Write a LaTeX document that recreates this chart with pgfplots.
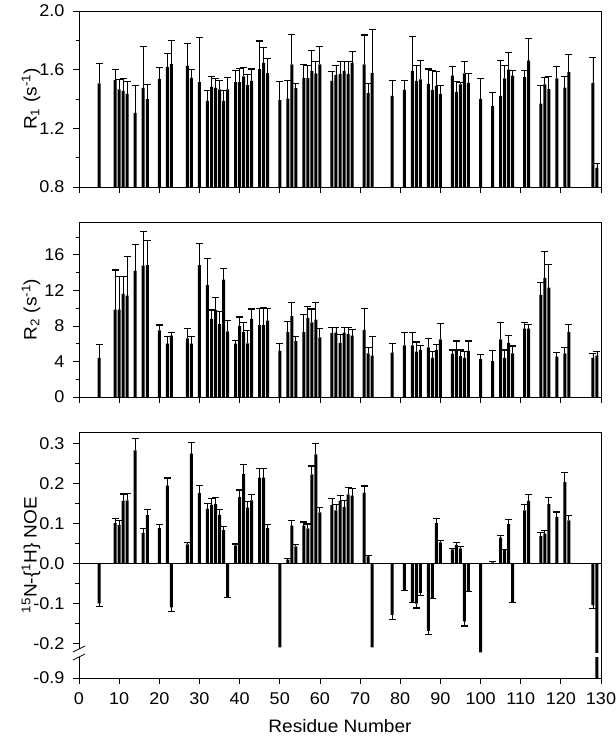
\documentclass[border=0pt]{standalone}
\usepackage{fontspec}
\setmainfont{Liberation Sans}[FakeStretch=1.06]
\usepackage{pgfplots}
\usepackage{pgfplotstable}
\pgfplotsset{compat=1.18}

% R1 (s^-1): residue, value, error
\pgfplotstableread{
x y e
5 1.506 0.136
9 1.528 0.072
10 1.465 0.068
11 1.456 0.082
12 1.435 0.087
14 1.305 0.185
16 1.476 0.280
17 1.399 0.098
20 1.535 0.082
22 1.617 0.093
23 1.638 0.159
27 1.626 0.151
28 1.544 0.056
30 1.515 0.303
32 1.387 0.071
33 1.483 0.073
34 1.476 0.062
35 1.465 0.061
36 1.387 0.073
37 1.465 0.082
39 1.515 0.080
40 1.515 0.093
41 1.554 0.061
42 1.494 0.071
43 1.524 0.080
45 1.604 0.191
46 1.647 0.103
47 1.576 0.101
50 1.392 0.128
52 1.403 0.121
53 1.636 0.202
54 1.474 0.032
56 1.542 0.094
57 1.542 0.089
58 1.592 0.141
59 1.574 0.082
60 1.636 0.120
63 1.524 0.066
64 1.563 0.064
65 1.572 0.084
66 1.592 0.064
67 1.572 0.084
68 1.647 0.077
71 1.636 0.200
72 1.440 0.063
73 1.576 0.299
78 1.421 0.103
81 1.462 0.062
83 1.592 0.233
84 1.524 0.103
85 1.533 0.132
87 1.503 0.101
88 1.462 0.133
89 1.490 0.095
90 1.433 0.061
93 1.560 0.064
94 1.449 0.068
95 1.499 0.016
96 1.574 0.080
97 1.510 0.066
100 1.399 0.143
103 1.351 0.091
105 1.421 0.244
106 1.540 0.087
107 1.601 0.114
108 1.560 0.032
111 1.549 0.043
112 1.661 0.152
115 1.369 0.123
116 1.499 0.046
117 1.467 0.087
119 1.540 0.084
121 1.478 0.076
122 1.583 0.121
128 1.508 0.175
129 0.930 0.030
}\rone

% R2 (s^-1)
\pgfplotstableread{
x y e
5 4.4 1.5
9 9.85 4.45
10 9.85 3.75
11 11.6 2.0
12 11.4 4.4
14 14.2 3.0
16 14.8 3.8
17 14.85 2.75
20 7.5 0.6
22 6.0 0.85
23 6.9 0.4
27 6.6 1.1
28 6.0 0.85
30 14.85 2.45
32 12.6 3.0
33 8.8 1.0
34 9.8 1.4
35 8.2 1.4
36 13.2 1.3
37 7.4 1.2
39 6.0 0.4
40 8.0 1.0
41 7.3 1.1
42 6.05 1.45
43 8.8 1.1
45 8.1 1.9
46 8.1 2.0
47 8.6 1.4
50 5.2 0.8
52 7.3 1.2
53 9.1 1.5
54 6.3 0.55
56 7.3 2.0
57 8.9 1.3
58 8.4 1.5
59 8.7 1.9
60 6.7 1.0
63 7.2 0.6
64 7.25 0.55
65 6.1 0.9
66 7.25 0.55
67 7.1 0.7
68 6.9 0.7
71 7.55 2.45
72 4.9 0.7
73 4.65 2.15
78 5.0 1.05
81 5.8 1.45
83 5.8 1.45
84 5.1 1.1
85 5.3 0.5
87 5.6 1.0
88 4.4 0.7
89 5.3 0.6
90 6.5 1.8
93 4.85 0.45
94 5.3 1.0
95 4.6 0.7
96 4.4 0.75
97 5.2 1.1
100 4.25 0.55
103 4.05 1.15
105 6.5 1.9
106 4.4 0.9
107 6.1 0.8
108 4.9 0.85
111 7.7 0.7
112 7.7 0.5
115 11.5 1.4
116 13.4 3.0
117 12.3 2.6
119 4.55 0.45
121 4.9 0.65
122 7.3 0.9
128 4.4 0.5
129 4.65 0.45
}\rtwo

% 15N-{1H} NOE, error signed away from zero
\pgfplotstableread{
x y e
5 -0.099 -0.008
9 0.101 0.011
10 0.097 0.011
11 0.157 0.017
12 0.158 0.018
14 0.283 0.029
16 0.077 0.010
17 0.121 0.015
20 0.089 0.009
22 0.195 0.019
23 -0.109 -0.010
27 0.048 0.005
28 0.275 0.028
30 0.176 0.019
32 0.137 0.014
33 0.147 0.016
34 0.149 0.016
35 0.122 0.014
36 0.084 0.009
37 -0.083 -0.002
39 0.045 0.004
40 0.166 0.018
41 0.224 0.024
42 0.140 0.016
43 0.158 0.015
45 0.215 0.023
46 0.215 0.023
47 0.089 0.009
52 0.010 0.002
53 0.095 0.012
54 0.043 0.004
56 0.095 0.009
57 0.088 0.011
58 0.223 0.021
59 0.273 0.027
60 0.128 0.013
63 0.146 0.016
64 0.133 0.014
65 0.157 0.013
66 0.142 0.016
67 0.173 0.018
68 0.170 0.018
71 0.177 0.017
72 0.018 0.002
78 -0.128 -0.012
81 -0.067 -0.001
83 -0.097 -0.001
84 -0.100 -0.011
85 -0.073 -0.007
87 -0.168 -0.010
88 -0.086 -0.002
89 0.101 0.012
90 0.053 0.005
93 0.036 0.002
94 0.047 0.005
95 0.038 0.004
96 -0.144 -0.012
97 -0.068 -0.001
103 0.003 0.003
105 0.065 0.006
106 0.035 0.001
107 0.099 0.012
108 -0.097 -0.001
111 0.133 0.015
112 0.157 0.016
115 0.069 0.008
116 0.075 0.008
117 0.149 0.016
119 0.117 0.012
121 0.204 0.023
122 0.108 0.012
128 -0.103 -0.009
}\noe
% bars drawn without error bar
\pgfplotstableread{
x y
50 -0.209
73 -0.209
100 -0.222
129 -0.9
}\noebig

\pgfplotsset{
  panel/.style={
    width=522pt, scale only axis,
    xmin=0, xmax=130, xtick={0,10,...,130},
    tick align=outside, tickpos=left,
    major tick length=6pt, minor tick length=3.5pt,
    every tick/.style={black, line width=0.8pt},
    axis line style={line width=0.8pt},
    ybar, bar width=3pt, bar shift=0pt,
    ticklabel style={font=\fontsize{17}{19}\selectfont},
    yticklabel style={xshift=-5pt},
    xticklabel style={yshift=-5pt},
    label style={font=\fontsize{18}{21}\selectfont},
    /pgf/number format/assume math mode=true,
    ylabel style={at={(axis description cs:-0.092,0.5)}, anchor=center},
    xlabel style={at={(axis description cs:0.5,-0.195)}, anchor=center},
  },
  bars/.style={fill=black, draw=none},
  errs/.style={error bars/.cd, y dir=plus, y explicit,
    error bar style={line width=0.9pt},
    error mark options={rotate=90, mark size=3.5pt, line width=1.2pt}},
}

\begin{document}
\begin{tikzpicture}
\useasboundingbox (-79pt,11pt) rectangle (536pt,-727pt);

\begin{axis}[panel, name=a, at={(0,0)}, anchor=north west,
    height=176pt, ymin=0.8, ymax=2.0,
    ytick={0.8,1.2,1.6,2.0}, minor ytick={1.0,1.4,1.8},
    yticklabel style={/pgf/number format/.cd, fixed, fixed zerofill, precision=1},
    xticklabels={},
    ylabel={R\textsubscript{1} (s\textsuperscript{-1})}]
\addplot[bars, errs] table[x=x, y=y, y error=e] {\rone};
\end{axis}

\begin{axis}[panel, name=b, at={(0,-211pt)}, anchor=north west,
    height=175pt, ymin=0, ymax=19.7,
    ytick={0,4,8,12,16}, minor ytick={2,6,10,14,18},
    xticklabels={},
    ylabel={R\textsubscript{2} (s\textsuperscript{-1})}]
\addplot[bars, errs] table[x=x, y=y, y error=e] {\rtwo};
\end{axis}

\begin{axis}[panel, name=c, at={(0,-421pt)}, anchor=north west,
    height=246pt,
    y coord trafo/.code={\pgfmathparse{(#1<-0.225)*(-0.225+(#1+0.225)*0.09)+(#1>=-0.225)*(#1)}},
    ymin=-0.9, ymax=0.329,
    ytick={-0.9,-0.2,-0.1,0,0.1,0.2,0.3},
    yticklabels={-0.9,-0.2,-0.1,0.0,0.1,0.2,0.3},
    minor ytick={-0.15,-0.05,0.05,0.15,0.25},
    xticklabels={0,10,20,30,40,50,60,70,80,90,100,110,120,130},
    xlabel={Residue Number},
    ylabel={\textsuperscript{15}N-\{\textsuperscript{1}H\} NOE}]
\addplot[bars, errs] table[x=x, y=y, y error=e] {\noe};
\addplot[bars] table[x=x, y=y] {\noebig};
\draw[line width=0.8pt] (axis cs:0,0) -- (axis cs:130,0);
\end{axis}

% axis break on the NOE scale
\fill[white] ([shift={(-4pt,21pt)}]c.south west) rectangle ([shift={(4pt,29pt)}]c.south west);
\draw[line width=0.8pt] ([shift={(-6pt,18pt)}]c.south west) -- ([shift={(6pt,24pt)}]c.south west);
\draw[line width=0.8pt] ([shift={(-6pt,26pt)}]c.south west) -- ([shift={(6pt,32pt)}]c.south west);
\fill[white] ([shift={(515pt,21pt)}]c.south west) rectangle ([shift={(520.5pt,25pt)}]c.south west);
\end{tikzpicture}
\end{document}
